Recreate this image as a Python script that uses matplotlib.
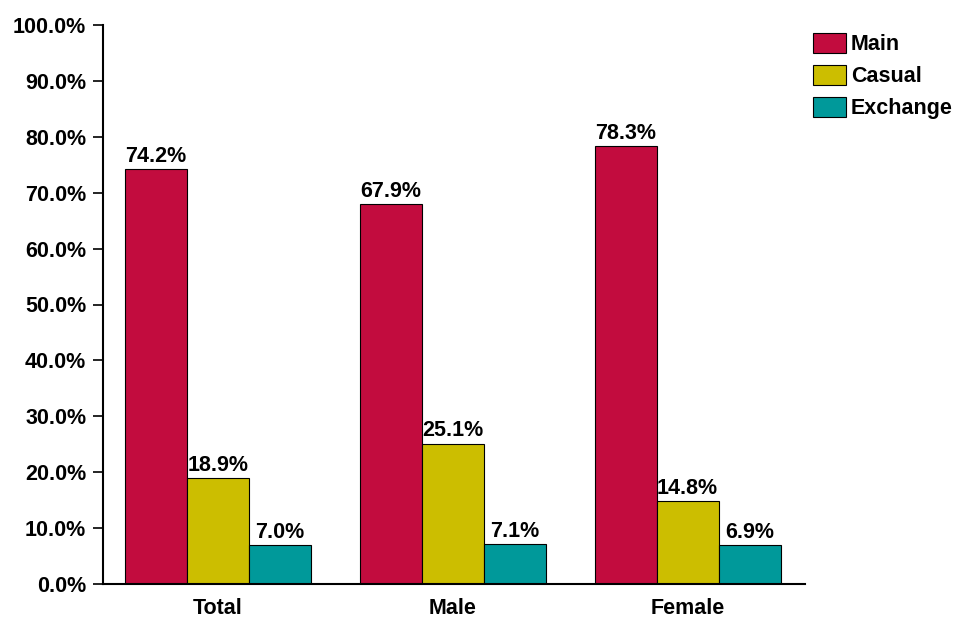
import numpy as np
import matplotlib.pyplot as plt
from matplotlib.patches import Patch

# data
groups = ['Total', 'Male', 'Female']
series = ['Main', 'Casual', 'Exchange']
main_vals = [74.2, 67.9, 78.3]
casual_vals = [18.9, 25.1, 14.8]
exchange_vals = [7.0, 7.1, 6.9]
colors = ['#C20C3E', '#CCBE00', '#00999A']

plt.rcParams['font.family'] = ['Liberation Sans', 'DejaVu Sans']
plt.rcParams['font.weight'] = 'bold'
fs = 15.5

fig = plt.figure(figsize=(9.55, 6.21), dpi=100)
ax = fig.add_axes([103/955, 37/621, 702/955, 559/621])

x = np.arange(len(groups))
w = 0.264
for i, (vals, col) in enumerate(zip([main_vals, casual_vals, exchange_vals], colors)):
    pos = x + (i - 1) * w
    ax.bar(pos, vals, width=w, color=col, edgecolor='black', linewidth=0.8)
    for p, v in zip(pos, vals):
        ax.text(p, v + 0.4, f'{v:.1f}%', ha='center', va='bottom',
                fontsize=fs, fontweight='bold')

ax.set_ylim(0, 100)
ax.set_xlim(-0.49, 2.5)
ax.set_yticks(np.arange(0, 101, 10))
ax.set_yticklabels([f'{t:.1f}%' for t in np.arange(0, 101, 10)])
ax.set_xticks(x)
ax.set_xticklabels(groups)
ax.tick_params(axis='y', direction='out', length=7, width=1.2, labelsize=fs, pad=5)
ax.tick_params(axis='x', length=0, labelsize=fs, pad=10)
for s in ['top', 'right']:
    ax.spines[s].set_visible(False)
ax.spines['left'].set_linewidth(1.5)
ax.spines['bottom'].set_linewidth(1.5)

handles = [Patch(facecolor=c, edgecolor='black', linewidth=0.8) for c in colors]
fig.legend(handles, series, loc='upper left', bbox_to_anchor=(813/955, 1 - 33/621),
           frameon=False, fontsize=fs, handlelength=1.55, handleheight=1.05,
           handletextpad=0.2, labelspacing=0.45, borderaxespad=0, borderpad=0)

fig.savefig('out.png', dpi=100)
